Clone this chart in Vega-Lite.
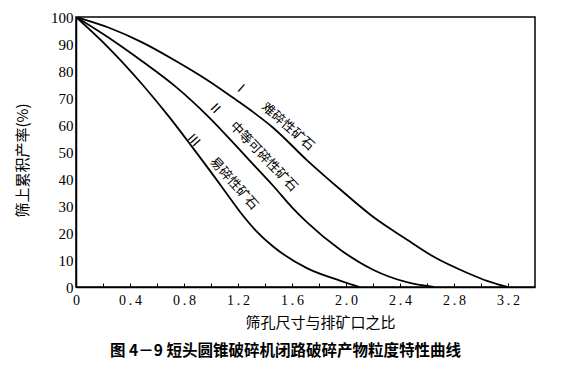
{
  "$schema": "https://vega.github.io/schema/vega-lite/v6.json",
  "width": 459,
  "height": 270,
  "autosize": {"type": "none"},
  "padding": {"left": 76, "top": 17, "right": 40, "bottom": 91},
  "background": "white",
  "config": {
    "view": {"stroke": "black", "strokeWidth": 1.5},
    "axis": {"grid": false, "domainColor": "black", "domainWidth": 1.5, "labelColor": "black", "titleColor": "black", "tickColor": "black", "labelFont": "Liberation Serif", "labelOverlap": false}
  },
  "title": {
    "text": "图 4－9    短头圆锥破碎机闭路破碎产物粒度特性曲线",
    "orient": "bottom",
    "anchor": "middle",
    "dx": -20,
    "offset": 14,
    "font": "Noto Sans CJK SC",
    "fontWeight": "bold",
    "fontSize": 15.5,
    "color": "black"
  },
  "datasets": {
    "curves": [
      {"series": "I", "x": 0, "y": 100},
      {"series": "I", "x": 0.24, "y": 96.1},
      {"series": "I", "x": 0.49, "y": 90.6},
      {"series": "I", "x": 0.74, "y": 83.7},
      {"series": "I", "x": 0.98, "y": 76.4},
      {"series": "I", "x": 1.18, "y": 69.5},
      {"series": "I", "x": 1.32, "y": 64.5},
      {"series": "I", "x": 1.46, "y": 59},
      {"series": "I", "x": 1.71, "y": 47},
      {"series": "I", "x": 1.96, "y": 36},
      {"series": "I", "x": 2.2, "y": 26},
      {"series": "I", "x": 2.45, "y": 17.6},
      {"series": "I", "x": 2.65, "y": 11.2},
      {"series": "I", "x": 2.9, "y": 5.2},
      {"series": "I", "x": 3.05, "y": 2.2},
      {"series": "I", "x": 3.2, "y": 0},
      {"series": "II", "x": 0, "y": 100},
      {"series": "II", "x": 0.24, "y": 92.4},
      {"series": "II", "x": 0.49, "y": 83.6},
      {"series": "II", "x": 0.74, "y": 74.1},
      {"series": "II", "x": 0.98, "y": 63.1},
      {"series": "II", "x": 1.2, "y": 51.5},
      {"series": "II", "x": 1.33, "y": 44.5},
      {"series": "II", "x": 1.46, "y": 37.5},
      {"series": "II", "x": 1.6, "y": 29.5},
      {"series": "II", "x": 1.71, "y": 24},
      {"series": "II", "x": 1.96, "y": 13.7},
      {"series": "II", "x": 2.2, "y": 6.4},
      {"series": "II", "x": 2.45, "y": 1.8},
      {"series": "II", "x": 2.65, "y": 0},
      {"series": "III", "x": 0, "y": 100},
      {"series": "III", "x": 0.24, "y": 88.7},
      {"series": "III", "x": 0.49, "y": 75.1},
      {"series": "III", "x": 0.69, "y": 63},
      {"series": "III", "x": 0.86, "y": 51.9},
      {"series": "III", "x": 1.03, "y": 40.5},
      {"series": "III", "x": 1.11, "y": 35},
      {"series": "III", "x": 1.22, "y": 27.5},
      {"series": "III", "x": 1.33, "y": 21},
      {"series": "III", "x": 1.46, "y": 15},
      {"series": "III", "x": 1.71, "y": 7},
      {"series": "III", "x": 1.96, "y": 2.3},
      {"series": "III", "x": 2.1, "y": 0}
    ],
    "labels": [
      {"series": "I", "x": 1.22, "y": 73.5, "text": "Ⅰ"},
      {"series": "I", "x": 1.57, "y": 59.4, "text": "难碎性矿石"},
      {"series": "II", "x": 1.03, "y": 66.1, "text": "Ⅱ"},
      {"series": "II", "x": 1.39, "y": 48.3, "text": "中等可碎性矿石"},
      {"series": "III", "x": 0.87, "y": 54.3, "text": "Ⅲ"},
      {"series": "III", "x": 1.17, "y": 38.3, "text": "易碎性矿石"}
    ]
  },
  "encoding": {
    "x": {
      "field": "x", "type": "quantitative",
      "scale": {"domain": [0, 3.4], "nice": false, "zero": true},
      "axis": {
        "title": "筛孔尺寸与排矿口之比",
        "titleFont": "Noto Sans CJK SC",
        "titleFontSize": 15,
        "titleFontWeight": "normal",
        "titlePadding": 8,
        "titleX": 244,
        "values": [0, 0.2, 0.4, 0.6, 0.8, 1.0, 1.2, 1.4, 1.6, 1.8, 2.0, 2.2, 2.4, 2.6, 2.8, 3.0, 3.2],
        "labelExpr": "round(datum.value * 5) % 2 == 0 ? (datum.value == 0 ? '0' : replace(format(datum.value, '.1f'), '.', '\u2009.\u2009')) : ''",
        "labelFont": "Liberation Serif",
        "labelFontSize": 14,
        "labelPadding": 10,
        "labelFlush": false,
        "labelOverlap": false,
        "ticks": true,
        "tickSize": -4,
        "tickWidth": 1
      }
    },
    "y": {
      "field": "y", "type": "quantitative",
      "scale": {"domain": [0, 100], "nice": false},
      "axis": {
        "title": "筛上累积产率(%)",
        "titleFont": "Noto Sans CJK SC",
        "titleFontSize": 15,
        "titleFontWeight": "normal",
        "titlePadding": 20,
        "titleY": 143,
        "values": [0, 10, 20, 30, 40, 50, 60, 70, 80, 90, 100],
        "labelFont": "Liberation Serif",
        "labelFontSize": 15,
        "labelPadding": 3,
        "ticks": false,
        "labelOverlap": false
      }
    }
  },
  "layer": [
    {
      "data": {"name": "curves"},
      "mark": {"type": "line", "interpolate": "monotone", "color": "black", "strokeWidth": 1.8, "clip": true},
      "encoding": {
        "detail": {"field": "series", "type": "nominal"}
      }
    },
    {
      "data": {"name": "labels"},
      "transform": [{"filter": "datum.series == 'I'"}],
      "mark": {"type": "text", "angle": 41, "font": "Noto Sans CJK SC", "fontSize": 13, "color": "black"},
      "encoding": {
        "text": {"field": "text", "type": "nominal"}
      }
    },
    {
      "data": {"name": "labels"},
      "transform": [{"filter": "datum.series == 'II'"}],
      "mark": {"type": "text", "angle": 46, "font": "Noto Sans CJK SC", "fontSize": 13, "color": "black"},
      "encoding": {
        "text": {"field": "text", "type": "nominal"}
      }
    },
    {
      "data": {"name": "labels"},
      "transform": [{"filter": "datum.series == 'III'"}],
      "mark": {"type": "text", "angle": 48, "font": "Noto Sans CJK SC", "fontSize": 13, "color": "black"},
      "encoding": {
        "text": {"field": "text", "type": "nominal"}
      }
    }
  ]
}
